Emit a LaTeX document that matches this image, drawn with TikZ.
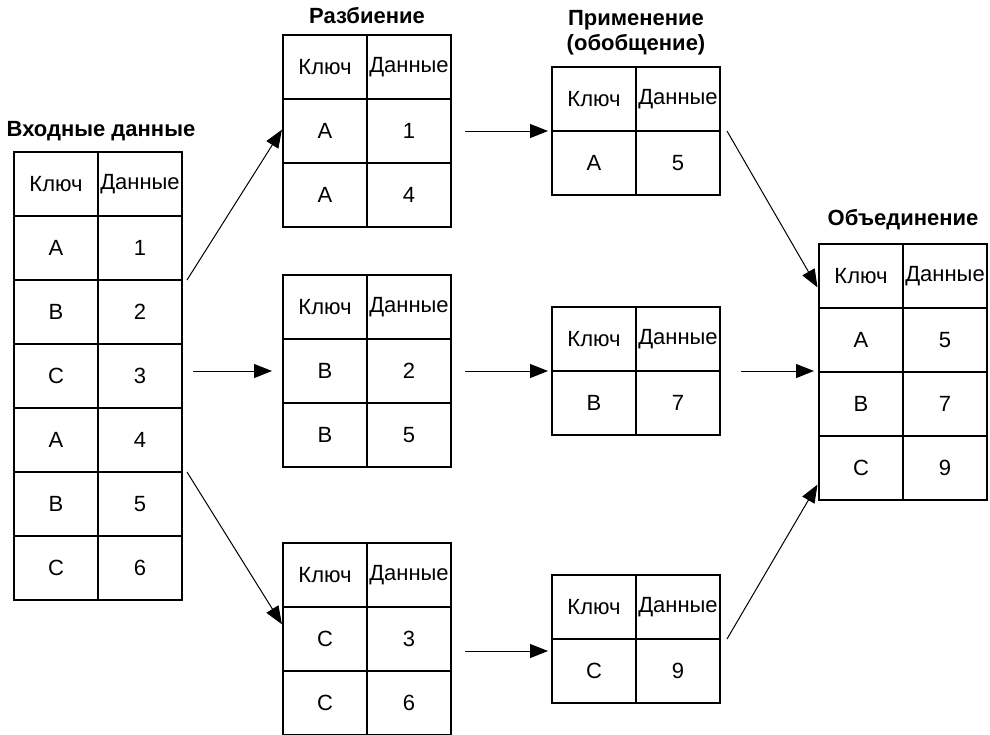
\documentclass[tikz,border=0pt]{standalone}
\usepackage{fontspec}
\setmainfont{Liberation Sans}
\usetikzlibrary{arrows.meta, positioning}
\tikzstyle{cell} = [
    rectangle,
    minimum width=42pt,
    minimum height=32pt,
    inner sep=0pt,
    outer sep=0pt,
    text centered,
    draw=black,
    line width=0.65pt
]
\tikzstyle{title} = [
    inner sep=0pt,
    align=center,
    font=\fontsize{11}{12.5}\selectfont\bfseries
]
\tikzstyle{arrow} = [line width=0.5pt,-{Triangle[length=9pt,width=7pt]}]

% key/value table: name, top left corner, rows
\newcommand{\kvtable}[3]{%
  \node (#1-k0) [cell, anchor=north west] at (#2) {Ключ};
  \node (#1-d0) [cell, right=0pt of #1-k0] {Данные};
  \foreach \k/\d [count=\i, remember=\i as \j (initially 0)] in {#3} {
    \node (#1-k\i) [cell, below=0pt of #1-k\j] {\k};
    \node (#1-d\i) [cell, right=0pt of #1-k\i] {\d};
  }%
}

\begin{document}
\begin{tikzpicture}[x=0.5pt, y=-0.5pt, font=\fontsize{11}{13}\selectfont]
\useasboundingbox (0,0) rectangle (990,734);

% Tables
\kvtable{in}{14,152}{A/1, B/2, C/3, A/4, B/5, C/6}
\kvtable{p1}{283,35}{A/1, A/4}
\kvtable{p2}{283,275}{B/2, B/5}
\kvtable{p3}{283,543}{C/3, C/6}
\kvtable{a1}{552,67}{A/5}
\kvtable{a2}{552,307}{B/7}
\kvtable{a3}{552,575}{C/9}
\kvtable{u}{819,244}{A/5, B/7, C/9}

% Titles
\node (in-title) [title, anchor=base, xshift=1.5pt, yshift=8pt] at (in-k0.north east) {Входные данные};
\node (p-title) [title, anchor=base, yshift=6pt] at (p1-k0.north east) {Разбиение};
\node (a-title) [title, anchor=south, yshift=6pt] at (a1-k0.north east) {Применение\\(обобщение)};
\node (u-title) [title, anchor=base, yshift=9.5pt] at (u-k0.north east) {Объединение};

% Arrows
\draw [arrow, shorten >=1pt] ([xshift=2.5pt]in-d1.south east) -- ([yshift=1.5pt]p1-k1.west);
\draw [arrow, shorten <=5.5pt, shorten >=5.5pt] (in-d3.east |- p2-k1.west) -- (p2-k1.west);
\draw [arrow, shorten >=1pt] ([xshift=2.5pt]in-d4.south east) -- ([yshift=6.5pt]p3-k1.west);
\draw [arrow, shorten <=7pt, shorten >=2pt] (p1-d1.east) -- (p1-d1.east -| a1-k1.west);
\draw [arrow, shorten <=7pt, shorten >=2pt] (p2-d1.east) -- (p2-d1.east -| a2-k1.west);
\draw [arrow, shorten <=7pt, shorten >=2pt] ([yshift=-6pt]p3-d1.east) -- ([yshift=-6pt]p3-d1.east -| a3-k1.west);
\draw [arrow, shorten >=1.5pt] ([xshift=3.5pt]a1-d0.south east) -- ([yshift=-7pt]u-k0.west);
\draw [arrow, shorten <=10.5pt, shorten >=2.5pt] (a2-d0.south east) -- (a2-d0.south east -| u-k1.west);
\draw [arrow, shorten >=1.5pt] ([xshift=3.5pt]a3-d0.south east) -- ([yshift=-7pt]u-k3.west);

\end{tikzpicture}
\end{document}
